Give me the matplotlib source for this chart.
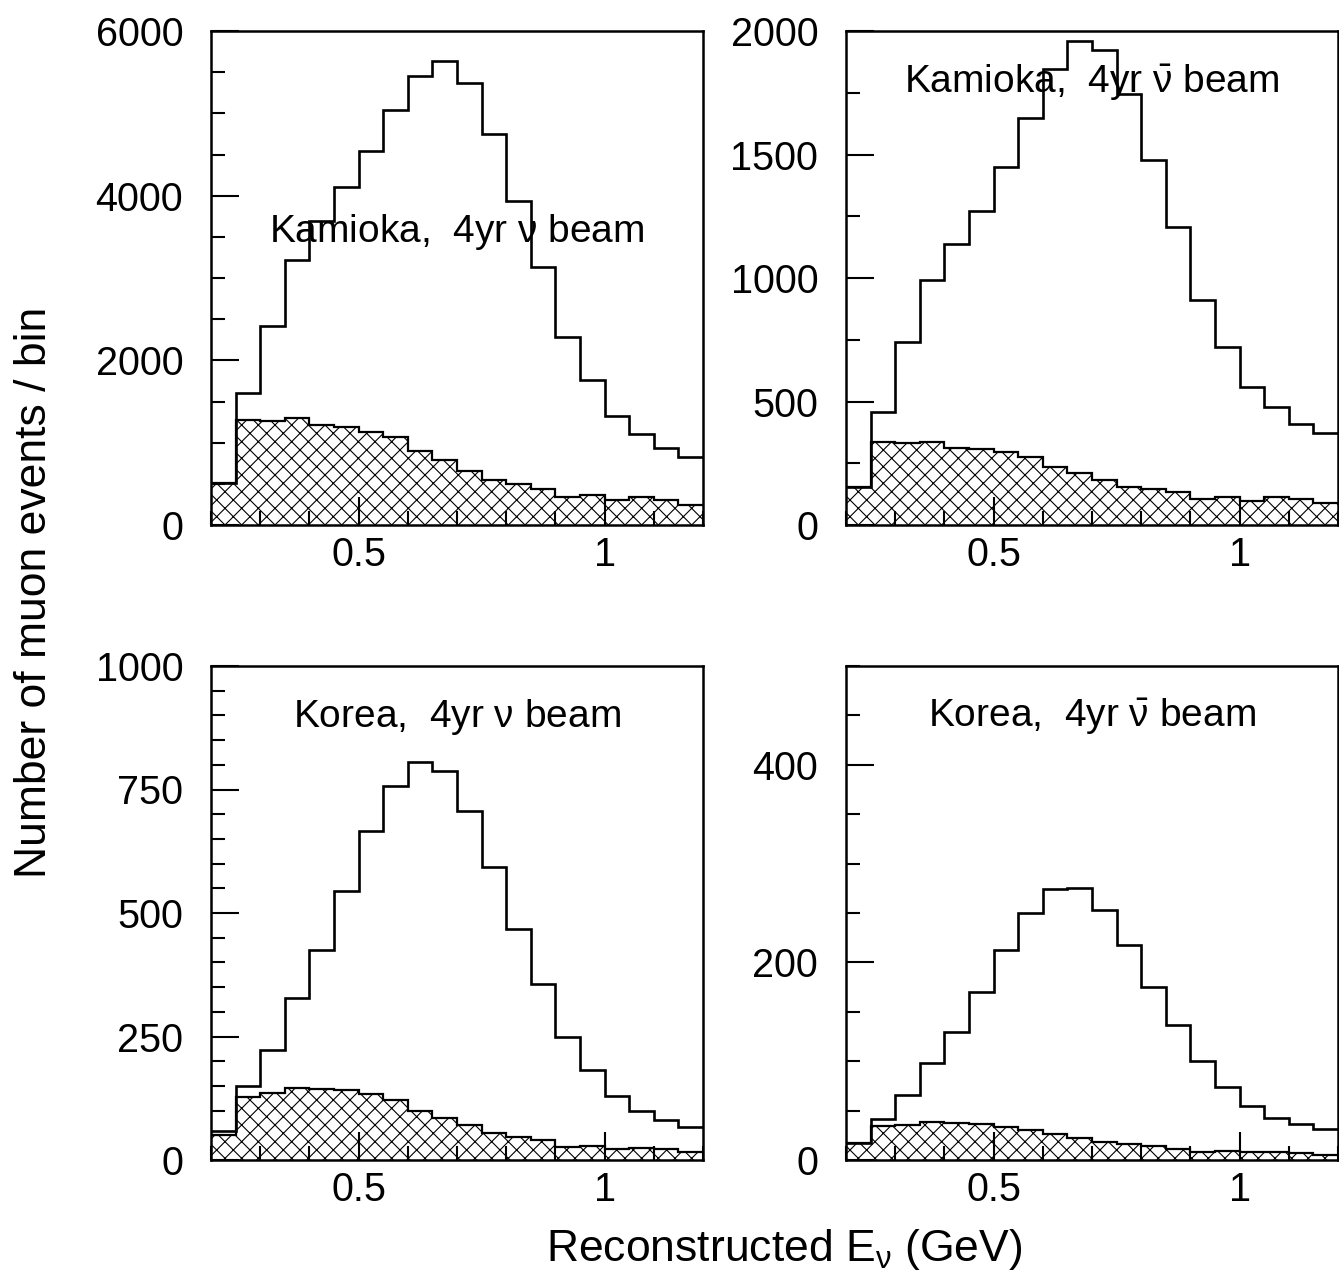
import numpy as np
import matplotlib
matplotlib.use("Agg")
import matplotlib.pyplot as plt
from matplotlib.ticker import MultipleLocator

plt.rcParams['font.family'] = ['Liberation Sans', 'DejaVu Sans']
plt.rcParams['mathtext.fontset'] = 'custom'
plt.rcParams['mathtext.rm'] = 'Liberation Sans'
plt.rcParams['mathtext.it'] = 'Liberation Sans'
plt.rcParams['hatch.linewidth'] = 0.8

# bin edges 0.2 .. 1.2 GeV, 0.05 wide
edges = np.linspace(0.2, 1.2, 21)

# Kamioka, nu beam
kam_nu_all = [513, 1609, 2417, 3217, 3687, 4100, 4548, 5035, 5457, 5630,
              5374, 4752, 3935, 3135, 2283, 1765, 1326, 1109, 939, 830]
kam_nu_bkg = [513, 1274, 1265, 1296, 1209, 1187, 1130, 1065, 896, 787,
              657, 548, 500, 439, 339, 361, 309, 339, 309, 243]

# Kamioka, anti-nu beam
kam_nubar_all = [154, 458, 740, 993, 1137, 1272, 1450, 1646, 1845, 1958,
                 1924, 1743, 1479, 1207, 910, 722, 559, 478, 410, 374]
kam_nubar_bkg = [154, 338, 330, 338, 313, 309, 294, 277, 236, 212,
                 183, 154, 145, 135, 106, 113, 99, 113, 106, 88]

# Korea, nu beam
kor_nu_all = [58, 149, 223, 327, 426, 544, 665, 757, 806, 788,
              707, 593, 467, 356, 249, 182, 129, 100, 80, 67]
kor_nu_bkg = [50, 127, 135, 146, 143, 141, 133, 122, 100, 86,
              70, 55, 46, 40, 26, 28, 22, 24, 22, 17]

# Korea, anti-nu beam
kor_nubar_all = [17, 42, 66, 98, 130, 170, 213, 250, 274, 275,
                 253, 218, 175, 137, 100, 74, 55, 43, 36, 31]
kor_nubar_bkg = [17, 34, 35, 38, 37, 36, 33, 30, 26, 22,
                 18, 16, 14, 11, 8, 9, 8, 8, 7, 5]

titles = [r"Kamioka,  4yr $\nu$ beam", r"Kamioka,  4yr $\bar{\nu}$ beam",
          r"Korea,  4yr $\nu$ beam", r"Korea,  4yr $\bar{\nu}$ beam"]
ymax = [6000, 2000, 1000, 500]
ymajor = [2000, 500, 250, 200]
yminor = [500, 250, 50, 50]
title_y = [0.593, 0.895, 0.897, 0.897]

data = [(kam_nu_all, kam_nu_bkg), (kam_nubar_all, kam_nubar_bkg),
        (kor_nu_all, kor_nu_bkg), (kor_nubar_all, kor_nubar_bkg)]

W, H = 1339, 1286
fig = plt.figure(figsize=(W / 100, H / 100), dpi=100)

lefts = [211, 846, 211, 846]
tops = [31, 31, 666, 666]
aw, ah = 492, 494

for i in range(4):
    ax = fig.add_axes([lefts[i] / W, 1 - (tops[i] + ah) / H, aw / W, ah / H])
    allv, bkg = data[i]
    # hatched background
    ax.stairs(bkg, edges, fill=True, hatch='xx', facecolor='white',
              edgecolor='black', linewidth=0, zorder=1)
    ax.stairs(bkg, edges, baseline=None, color='black', linewidth=1.6, zorder=2)
    # all events
    ax.stairs(allv, edges, baseline=None, color='black', linewidth=1.9, zorder=3)

    ax.set_xlim(0.2, 1.2)
    ax.set_ylim(0, ymax[i])
    ax.xaxis.set_major_locator(MultipleLocator(0.5))
    ax.xaxis.set_minor_locator(MultipleLocator(0.1))
    ax.yaxis.set_major_locator(MultipleLocator(ymajor[i]))
    ax.yaxis.set_minor_locator(MultipleLocator(yminor[i]))
    ax.xaxis.set_major_formatter(plt.FuncFormatter(lambda v, p: "%g" % v))
    ax.yaxis.set_major_formatter(plt.FuncFormatter(lambda v, p: "%g" % v))
    ax.tick_params(which='both', direction='in', top=False, right=False,
                   width=1.5, labelsize=28.5)
    ax.tick_params(which='major', length=20)
    ax.tick_params(which='minor', length=10)
    ax.tick_params(axis='x', pad=8)
    ax.tick_params(axis='y', pad=20)
    for s in ax.spines.values():
        s.set_linewidth(1.8)
    ax.text(0.5, title_y[i], titles[i], transform=ax.transAxes,
            ha='center', va='center', fontsize=28, zorder=5)

fig.text(35 / W, 1 - 592 / H, "Number of muon events / bin", rotation=90,
         ha='center', va='center', fontsize=32)
fig.text(784 / W, 1 - 1250 / H, r"Reconstructed E$_{\nu}$ (GeV)",
         ha='center', va='center', fontsize=32)

fig.savefig("out.png", dpi=100)
